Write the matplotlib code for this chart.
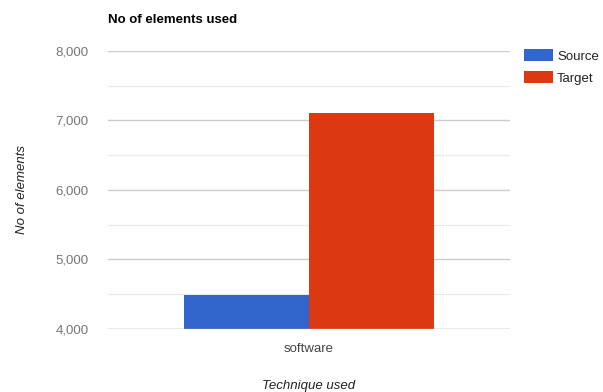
import matplotlib
matplotlib.use("Agg")
import matplotlib.pyplot as plt
from matplotlib.ticker import FuncFormatter, MultipleLocator

plt.rcParams["font.family"] = ["Liberation Sans", "DejaVu Sans"]

categories = ["software"]
series_names = ["Source", "Target"]
source_vals = [4490]
target_vals = [7100]
colors = ["#3366CC", "#DC3912"]

fig = plt.figure(figsize=(6.03, 3.92), dpi=100)
ax = fig.add_axes([0.179, 0.161, 0.667, 0.709])

x = range(len(categories))
width = 0.31
b1 = ax.bar([i - width / 2 for i in x], source_vals, width, color=colors[0],
            label=series_names[0], zorder=3, linewidth=0)
b2 = ax.bar([i + width / 2 for i in x], target_vals, width, color=colors[1],
            label=series_names[1], zorder=3, linewidth=0)

ax.set_xlim(-0.5, 0.5)
ax.set_ylim(4000, 8000)
ax.yaxis.set_major_locator(MultipleLocator(1000))
ax.yaxis.set_minor_locator(MultipleLocator(500))
ax.yaxis.set_major_formatter(FuncFormatter(lambda v, p: f"{int(v):,}"))
ax.grid(axis="y", which="major", color="#CCCCCC", linewidth=1, zorder=0)
ax.grid(axis="y", which="minor", color="#EBEBEB", linewidth=1, zorder=0)
ax.axhline(4000, color="#BBBBBB", linewidth=1, zorder=4)

for s in ax.spines.values():
    s.set_visible(False)
ax.tick_params(axis="both", which="both", length=0)
ax.tick_params(axis="y", labelsize=9.5, labelcolor="#757575", pad=14)
ax.tick_params(axis="x", labelsize=9.5, labelcolor="#444444", pad=10)
ax.set_xticks(list(x))
ax.set_xticklabels(categories)

ax.set_ylabel("No of elements", fontsize=9.5, style="italic", color="#222222", labelpad=20)
ax.set_xlabel("Technique used", fontsize=9.5, style="italic", color="#222222", labelpad=18)

fig.text(0.179, 0.950, "No of elements used", fontsize=9.5, fontweight="bold",
         color="#000000", ha="left", va="center")

leg = fig.legend(handles=[b1, b2], loc="upper left", bbox_to_anchor=(0.869, 0.874),
                 frameon=False, fontsize=9.5, handlelength=2.2, handleheight=1.0,
                 handletextpad=0.3, labelspacing=0.65, borderaxespad=0, borderpad=0)
for t in leg.get_texts():
    t.set_color("#222222")

fig.savefig("out.png", dpi=100, facecolor="white")
